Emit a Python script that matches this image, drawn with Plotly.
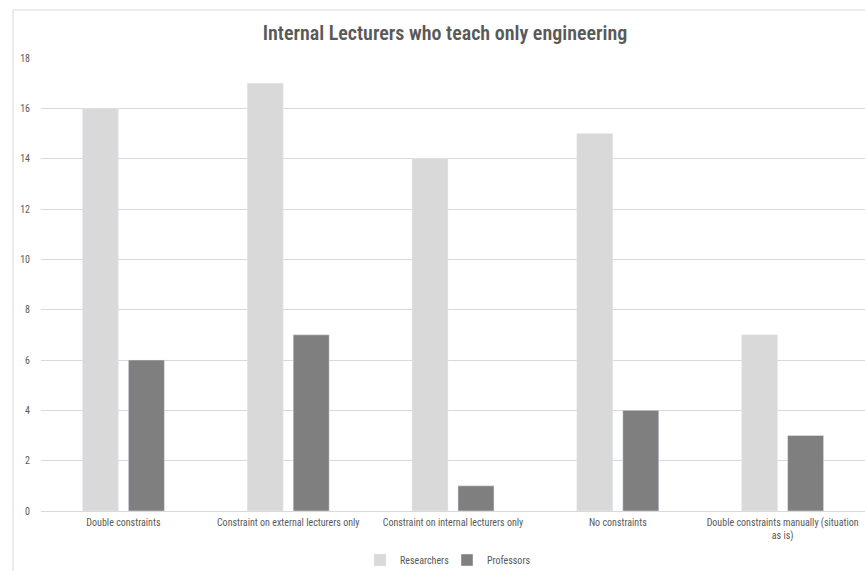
import plotly.graph_objects as go

categories = ["Double constraints", "Constraint on external lecturers only",
              "Constraint on internal lecturers only", "No constraints",
              "Double constraints manually (situation<br>as is)"]
researchers = [16, 17, 14, 15, 7]
professors = [6, 7, 1, 4, 3]
yticks = [0, 2, 4, 6, 8, 10, 12, 14, 16, 18]

FONT = "Liberation Sans Narrow, Roboto Condensed, Arial Narrow, Roboto, sans-serif"

fig = go.Figure()
fig.add_trace(go.Bar(name="Researchers", x=categories, y=researchers, marker_color="#d9d9d9"))
fig.add_trace(go.Bar(name="Professors", x=categories, y=professors, marker_color="#7f7f7f"))

W, H = 865, 571
L, R, T, B = 41, 0, 58, 60
pw, ph = W - L - R, H - T - B

def px_x(x):
    return (x - L) / pw

def px_y(y):
    return (H - B - y) / ph

fig.update_layout(
    width=W, height=H,
    margin=dict(l=L, r=R, t=T, b=B, autoexpand=False),
    paper_bgcolor="white", plot_bgcolor="white",
    barmode="group", bargap=0.442, bargroupgap=0.217,
    title=dict(text="Internal Lecturers who teach only engineering",
               x=445 / W, xref="container", xanchor="center",
               y=1 - 33 / H, yref="container", yanchor="middle",
               font=dict(family=FONT, size=20, color="#595959", weight=600)),
    font=dict(family=FONT, size=10, color="#595959"),
    legend=dict(orientation="h", x=447 / W, xanchor="center", xref="container",
                y=1 - 560 / H, yref="container", yanchor="middle",
                font=dict(size=10, color="#595959"), traceorder="normal",
                itemwidth=30, tracegroupgap=0, entrywidth=42, entrywidthmode="pixels"),
    xaxis=dict(showgrid=False, showline=False, ticks="", tickfont=dict(size=10, color="#595959"),
               tickangle=0, ticklabelstandoff=4),
    yaxis=dict(range=[0, 18], tickvals=yticks, showgrid=True, gridcolor="#d9d9d9", gridwidth=1,
               zeroline=True, zerolinecolor="#d9d9d9", zerolinewidth=1, showline=False,
               ticks="", tickfont=dict(size=10, color="#595959"), ticklabelstandoff=10),
    shapes=[
        dict(type="line", xref="paper", yref="paper", x0=px_x(13), x1=px_x(13),
             y0=px_y(10), y1=px_y(575), line=dict(color="#d9d9d9", width=1)),
        dict(type="line", xref="paper", yref="paper", x0=px_x(13), x1=px_x(870),
             y0=px_y(10), y1=px_y(10), line=dict(color="#d9d9d9", width=1)),
    ],
)

fig.write_html("out.html")
